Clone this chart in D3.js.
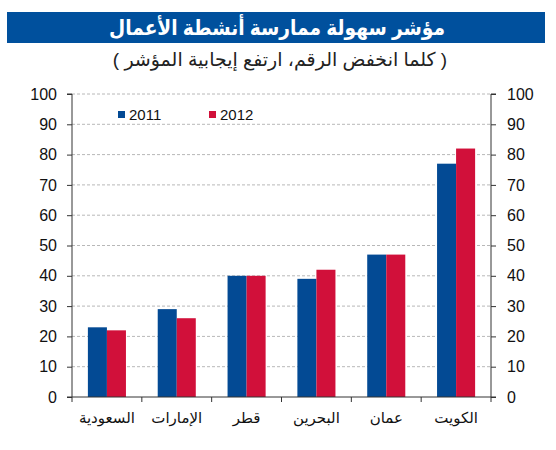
<!DOCTYPE html>
<html><head><meta charset="utf-8">
<script src="https://cdn.jsdelivr.net/npm/d3@7"></script>
<style>
body{margin:0;background:#fff;}
text{font-family:Arial,"Liberation Sans","DejaVu Sans",sans-serif;}
</style></head>
<body>
<svg id="chart" width="556" height="450"></svg>
<script>
const titleText = "مؤشر سهولة ممارسة أنشطة الأعمال";
const subtitleText = "( كلما انخفض الرقم، ارتفع إيجابية المؤشر )";
const categories = ["السعودية","الإمارات","قطر","البحرين","عمان","الكويت"];
const seriesNames = ["2011","2012"];
const values2011 = [23, 29, 40, 39, 47, 77];
const values2012 = [22, 26, 40, 42, 47, 82];
const yTicks = [0,10,20,30,40,50,60,70,80,90,100];
const colors = ["#034a94","#d1103a"];

const svg = d3.select("#chart");
const L = 72, R = 491, T = 94, B = 397;

// title
svg.append("rect").attr("x",7).attr("y",12).attr("width",538).attr("height",31).attr("fill","#00509d");
svg.append("text").attr("x",277).attr("y",35).attr("text-anchor","middle")
  .attr("fill","#fff").attr("font-weight","bold").attr("font-size",21).attr("direction","rtl")
  .attr("textLength",336).attr("lengthAdjust","spacingAndGlyphs")
  .text(titleText);
svg.append("text").attr("x",280).attr("y",66).attr("text-anchor","middle")
  .attr("fill","#222").attr("font-size",19).attr("direction","rtl")
  .text(subtitleText);

const x = d3.scaleBand().domain(categories).range([L,R]).paddingInner(0.455).paddingOuter(0.2275);
const xs = d3.scaleBand().domain(seriesNames).range([0,x.bandwidth()]);
const y = d3.scaleLinear().domain([0,100]).range([B,T]);

// gridlines
svg.append("g").selectAll("line").data(yTicks.filter(d=>d>0)).join("line")
  .attr("x1",L).attr("x2",R).attr("y1",d=>y(d)).attr("y2",d=>y(d))
  .attr("stroke","#b8b8b8").attr("stroke-dasharray","3,2").attr("stroke-width",1);

// bars
const data = categories.map((c,i)=>({c, v:[values2011[i], values2012[i]]}));
const g = svg.append("g");
data.forEach(d=>{
  seriesNames.forEach((s,j)=>{
    g.append("rect").attr("x",x(d.c)+xs(s)).attr("width",xs.bandwidth())
     .attr("y",y(d.v[j])).attr("height",B-y(d.v[j])).attr("fill",colors[j]);
  });
});

// axes
const yl = d3.axisLeft(y).tickValues(yTicks).tickSize(5).tickPadding(10);
const yr = d3.axisRight(y).tickValues(yTicks).tickSize(5).tickPadding(11);
function styleAxis(sel){
  sel.select(".domain").attr("stroke","#333");
  sel.selectAll(".tick line").attr("stroke","#333");
  sel.selectAll(".tick text").attr("font-size",16).attr("fill","#111")
    .attr("font-family","Arial,'Liberation Sans',sans-serif");
}
svg.append("g").attr("transform",`translate(${L},0)`).call(yl).call(styleAxis)
  .select(".domain").attr("d",`M-5,${T}H0V${B}H-5`);
svg.append("g").attr("transform",`translate(${R},0)`).call(yr).call(styleAxis)
  .select(".domain").attr("d",`M5,${T}H0V${B}H5`);

// x axis
const xg = svg.append("g").attr("transform",`translate(0,${B})`);
xg.append("line").attr("x1",L).attr("x2",R).attr("stroke","#333");
const step = x.step();
const bounds = d3.range(categories.length+1).map(i=>L+i*step);
xg.selectAll("line.tk").data(bounds).join("line").attr("class","tk")
  .attr("x1",d=>d).attr("x2",d=>d).attr("y1",0).attr("y2",5).attr("stroke","#333");
xg.selectAll("text").data(categories).join("text")
  .attr("x",d=>x(d)+x.bandwidth()/2).attr("y",26).attr("text-anchor","middle")
  .attr("font-size",15).attr("fill","#111").attr("direction","rtl").text(d=>d);

// legend
const leg = svg.append("g");
const legX = [118, 209];
seriesNames.forEach((s,j)=>{
  leg.append("rect").attr("x",legX[j]).attr("y",111).attr("width",7).attr("height",7).attr("fill",colors[j]);
  leg.append("text").attr("x",legX[j]+11).attr("y",120).attr("font-size",15).attr("fill","#111").text(s);
});
</script>
</body></html>
